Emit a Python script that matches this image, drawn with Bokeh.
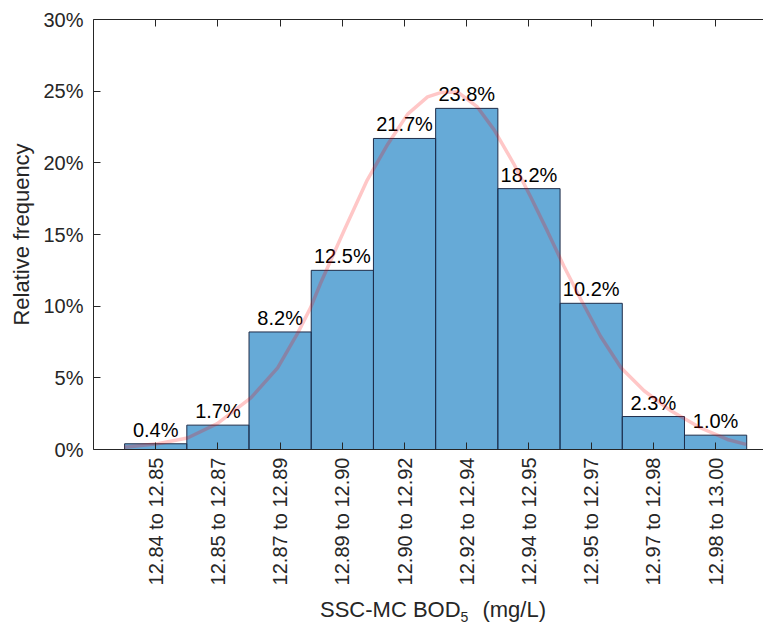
from bokeh.plotting import figure
from bokeh.models import Range1d, LinearAxis, FixedTicker, PrintfTickFormatter, Div
from bokeh.layouts import column
from bokeh.core.properties import value
from bokeh.embed import file_html
from bokeh.resources import INLINE
import math

# ---- data ----
bin_labels = ["12.84 to 12.85", "12.85 to 12.87", "12.87 to 12.89", "12.89 to 12.90",
              "12.90 to 12.92", "12.92 to 12.94", "12.94 to 12.95", "12.95 to 12.97",
              "12.97 to 12.98", "12.98 to 13.00"]
rel_freq = [0.4, 1.7, 8.2, 12.5, 21.7, 23.8, 18.2, 10.2, 2.3, 1.0]
value_labels = ["0.4%", "1.7%", "8.2%", "12.5%", "21.7%", "23.8%", "18.2%", "10.2%", "2.3%", "1.0%"]
y_ticks = [0, 5, 10, 15, 20, 25, 30]

# fitted curve (x in bin positions, y in %)
curve_x = [0.50, 1.03, 1.51, 1.99, 2.53, 2.96, 3.28, 3.49, 3.65, 4.03, 4.40, 4.73, 5.05, 5.37,
           5.58, 5.85, 6.17, 6.44, 6.76, 7.03, 7.30, 7.56, 7.83, 8.15, 8.48, 8.85, 9.28, 9.76,
           10.19, 10.49]
curve_y = [0.15, 0.4, 0.8, 1.8, 3.6, 5.7, 8.1, 9.9, 11.6, 15.3, 18.8, 21.3, 23.4, 24.6,
           24.9, 24.95, 23.9, 22.3, 19.9, 17.6, 15.2, 12.8, 10.5, 7.9, 5.7, 4.1, 2.7, 1.5,
           0.7, 0.36]

positions = list(range(1, len(rel_freq) + 1))

FONT = "Liberation Sans"
AX_COLOR = "#262626"

W, H = 763, 626
DIV_H = 36
PH = H - DIV_H
L, T = 93, 19
B = PH - 449
X_MAX = 10.77

p = figure(width=W, height=PH, x_range=Range1d(0, X_MAX), y_range=Range1d(0, 30),
           output_backend="svg", toolbar_location=None, x_axis_type=None, y_axis_type=None,
           min_border_left=L, min_border_right=0, min_border_top=T, min_border_bottom=B)
p.outline_line_color = None
p.grid.visible = False
p.background_fill_color = "white"
p.border_fill_color = "white"

# bottom axis
xa = LinearAxis(ticker=FixedTicker(ticks=positions),
                major_label_overrides={i: s for i, s in zip(positions, bin_labels)})
xa.major_label_orientation = math.pi / 2
xa.major_label_text_font = FONT
xa.major_label_text_font_size = "20px"
xa.major_label_text_color = AX_COLOR
xa.major_label_standoff = 8
xa.major_tick_in = 7
xa.major_tick_out = 0
xa.minor_tick_line_color = None
xa.axis_line_color = AX_COLOR
xa.major_tick_line_color = AX_COLOR
p.add_layout(xa, "below")

# top axis (box edge with ticks, no labels)
ta = LinearAxis(ticker=FixedTicker(ticks=positions))
ta.major_label_text_font_size = "1px"
ta.major_label_text_color = None
ta.major_label_standoff = 0
ta.major_tick_in = 7
ta.major_tick_out = 0
ta.minor_tick_line_color = None
ta.axis_line_color = AX_COLOR
ta.major_tick_line_color = AX_COLOR
p.add_layout(ta, "above")

# left axis
ya = LinearAxis(ticker=FixedTicker(ticks=y_ticks), formatter=PrintfTickFormatter(format="%d%%"))
ya.axis_label = "Relative frequency"
ya.axis_label_text_font = FONT
ya.axis_label_text_font_size = "22px"
ya.axis_label_text_font_style = "normal"
ya.axis_label_text_color = AX_COLOR
ya.axis_label_standoff = 6
ya.major_label_text_font = FONT
ya.major_label_text_font_size = "20px"
ya.major_label_text_color = AX_COLOR
ya.major_label_standoff = 10
ya.major_tick_in = 7
ya.major_tick_out = 0
ya.minor_tick_line_color = None
ya.axis_line_color = AX_COLOR
ya.major_tick_line_color = AX_COLOR
p.add_layout(ya, "left")

# bars
p.vbar(x=positions, top=rel_freq, width=1.0, bottom=0,
       fill_color="#0072BD", fill_alpha=0.6, line_color="#1f2d4a", line_width=1)

# value labels
p.text(x=positions, y=rel_freq, text=value_labels, text_align="center",
       text_baseline="bottom", y_offset=-3, text_font=value(FONT),
       text_font_size="20px", text_color="black")

# fitted curve
p.line(curve_x, curve_y, line_color="red", line_alpha=0.22, line_width=3.5)

# x axis label with subscript, as a text block under the plot
xlabel = Div(
    text=('<div style="font-family:\'Liberation Sans\';font-size:22px;color:#262626;'
          'line-height:22px;white-space:nowrap;">SSC-MC BOD'
          '<span style="font-size:14px;position:relative;top:5px;margin-right:8px;">5</span>'
          ' (mg/L)</div>'),
    width=W, height=DIV_H, margin=(0, 0, 0, 0),
    styles={"padding-left": "320px", "padding-top": "9px", "box-sizing": "border-box"})

layout = column(p, xlabel, spacing=0)
open("out.html", "w").write(file_html(layout, INLINE))
